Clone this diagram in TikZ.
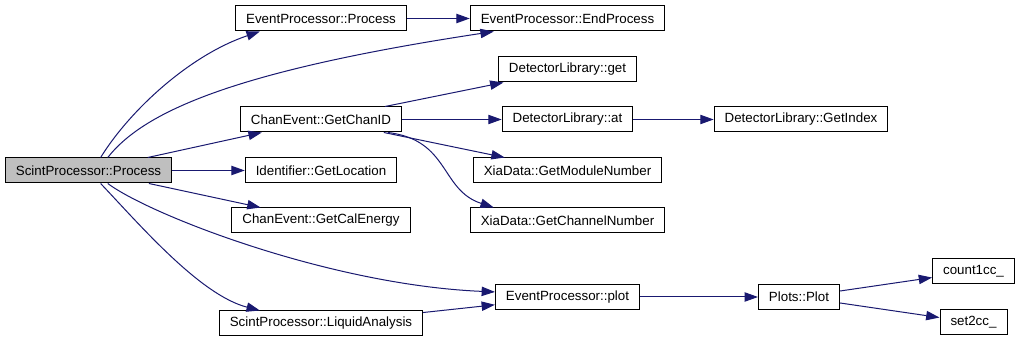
\documentclass[tikz,border=0pt]{standalone}
\usepackage{fontspec}
\setmainfont{Liberation Sans}
\usetikzlibrary{arrows.meta}

\definecolor{edgeblue}{HTML}{191970}
\definecolor{rootgray}{HTML}{BFBFBF}

\begin{document}
\begin{tikzpicture}[
	x=0.75pt, y=-0.75pt,
  > = {Triangle[length=10pt,width=7pt]},
  fn/.style = {draw,rectangle,fill=white,line width=0.75pt,minimum height=18.75pt,
    inner xsep=7.9pt,inner ysep=0pt,font=\fontsize{10}{12}\selectfont},
  root/.style = {fn,fill=rootgray},
  call/.style = {->,draw=edgeblue,line width=0.75pt}
  ]
	\fill[white] (0,0) rectangle (1020,341);
	\useasboundingbox (0,0) rectangle (1020,341);

	% caller
	\node[root] (scint) at (88.5,170.5) {ScintProcessor::Process};

	% first level
	\node[fn] (epproc) at (321,18.5) {EventProcessor::Process};
	\node[fn] (chanid) at (321,119.5) {ChanEvent::GetChanID};
	\node[fn] (loc) at (321,170.5) {Identifier::GetLocation};
	\node[fn] (calen) at (321,220.5) {ChanEvent::GetCalEnergy};
	\node[fn] (liquid) at (321,323.5) {ScintProcessor::LiquidAnalysis};

	% second level
	\node[fn] (epend) at (567.5,18.5) {EventProcessor::EndProcess};
	\node[fn] (dlget) at (567.5,69.5) {DetectorLibrary::get};
	\node[fn] (dlat) at (567.5,119.5) {DetectorLibrary::at};
	\node[fn] (modnum) at (567.5,170.5) {XiaData::GetModuleNumber};
	\node[fn] (chnum) at (567.5,220.5) {XiaData::GetChannelNumber};
	\node[fn] (epplot) at (567.5,297) {EventProcessor::plot};

	% third and fourth level
	\node[fn] (dlidx) at (801,119.5) {DetectorLibrary::GetIndex};
	\node[fn] (plot) at (799,297) {Plots::Plot};
	\node[fn] (count) at (973.5,271.5) {count1cc\_};
	\node[fn] (set2) at (973.5,322.5) {set2cc\_};

	\draw[call] (scint.47) .. controls (130,110) and (190,55) .. (epproc.192);
	\draw[call] (scint.34) .. controls (145,110) and (240,70) .. (epend.190);
	\draw[call] (scint) -- (chanid);
	\draw[call] (scint) -- (loc);
	\draw[call] (scint) -- (calen);
	\draw[call] (scint.326) .. controls (150,215) and (330,285) .. (epplot.176);
	\draw[call] (scint.313) .. controls (140,225) and (200,295) .. (liquid.168);
	\draw[call] (liquid) -- (epplot);
	\draw[call] (epproc) -- (epend);
	\draw[call] (chanid) -- (dlget);
	\draw[call] (chanid) -- (dlat);
	\draw[call] (chanid) -- (modnum);
	\draw[call] (chanid.349) .. controls (450,140) and (440,190) .. (chnum.170);
	\draw[call] (dlat) -- (dlidx);
	\draw[call] (epplot) -- (plot);
	\draw[call] (plot) -- (count);
	\draw[call] (plot) -- (set2);

\end{tikzpicture}
\end{document}
